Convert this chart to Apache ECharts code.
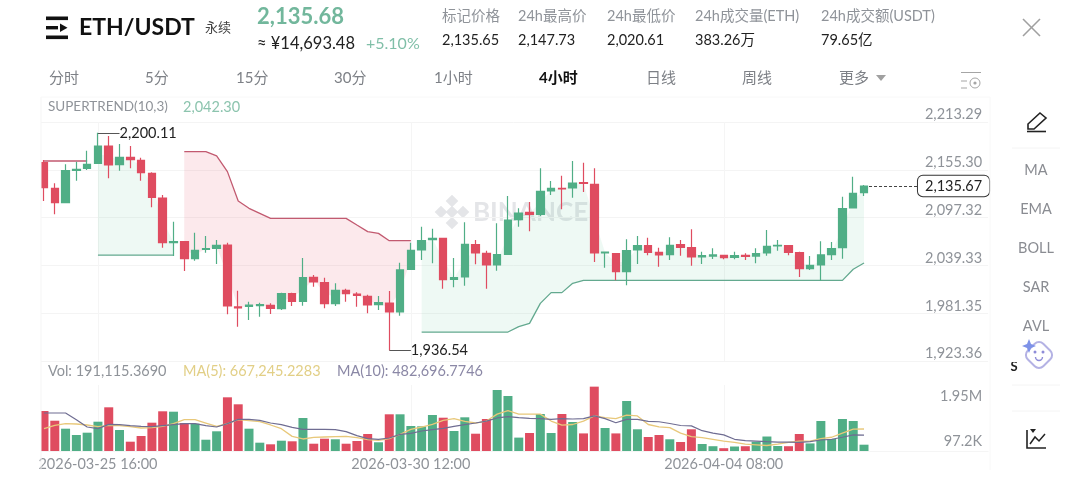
<!DOCTYPE html>
<html>
<head>
<meta charset="utf-8">
<title>ETH/USDT</title>
<style>
    html, body { margin: 0; padding: 0; background: #fff; }
    #main { width: 1080px; height: 486px; }
</style>
<script src="https://cdn.jsdelivr.net/npm/echarts@6/dist/echarts.min.js"></script>
</head>
<body>
<div id="main"></div>
<script>
// 4小时K线, 每根一个时间
const timeList = [
    '2026-03-24 20:00',
    '2026-03-25 00:00', '2026-03-25 04:00', '2026-03-25 08:00', '2026-03-25 12:00', '2026-03-25 16:00', '2026-03-25 20:00',
    '2026-03-26 00:00', '2026-03-26 04:00', '2026-03-26 08:00', '2026-03-26 12:00', '2026-03-26 16:00', '2026-03-26 20:00',
    '2026-03-27 00:00', '2026-03-27 04:00', '2026-03-27 08:00', '2026-03-27 12:00', '2026-03-27 16:00', '2026-03-27 20:00',
    '2026-03-28 00:00', '2026-03-28 04:00', '2026-03-28 08:00', '2026-03-28 12:00', '2026-03-28 16:00', '2026-03-28 20:00',
    '2026-03-29 00:00', '2026-03-29 04:00', '2026-03-29 08:00', '2026-03-29 12:00', '2026-03-29 16:00', '2026-03-29 20:00',
    '2026-03-30 00:00', '2026-03-30 04:00', '2026-03-30 08:00', '2026-03-30 12:00', '2026-03-30 16:00', '2026-03-30 20:00',
    '2026-03-31 00:00', '2026-03-31 04:00', '2026-03-31 08:00', '2026-03-31 12:00', '2026-03-31 16:00', '2026-03-31 20:00',
    '2026-04-01 00:00', '2026-04-01 04:00', '2026-04-01 08:00', '2026-04-01 12:00', '2026-04-01 16:00', '2026-04-01 20:00',
    '2026-04-02 00:00', '2026-04-02 04:00', '2026-04-02 08:00', '2026-04-02 12:00', '2026-04-02 16:00', '2026-04-02 20:00',
    '2026-04-03 00:00', '2026-04-03 04:00', '2026-04-03 08:00', '2026-04-03 12:00', '2026-04-03 16:00', '2026-04-03 20:00',
    '2026-04-04 00:00', '2026-04-04 04:00', '2026-04-04 08:00', '2026-04-04 12:00', '2026-04-04 16:00', '2026-04-04 20:00',
    '2026-04-05 00:00', '2026-04-05 04:00', '2026-04-05 08:00', '2026-04-05 12:00', '2026-04-05 16:00', '2026-04-05 20:00',
    '2026-04-06 00:00', '2026-04-06 04:00', '2026-04-06 08:00', '2026-04-06 12:00', '2026-04-06 16:00', '2026-04-06 20:00',
    '2026-04-07 00:00', '2026-04-07 04:00', '2026-04-07 08:00', '2026-04-07 12:00', '2026-04-07 16:00', '2026-04-07 20:00',
    '2026-04-08 00:00', '2026-04-08 04:00', '2026-04-08 08:00'
]
const openList = [
    2164.0, 2132.8, 2115.4, 2154.7, 2157.1, 2163.2, 2184.2, 2161.5, 2170.4, 2166.8, 2151.0,
    2121.1, 2066.9, 2068.1, 2047.5, 2058.8, 2060.0, 2064.1, 1988.9, 1989.7, 1990.5, 1990.9,
    1986.8, 2005.0, 1995.7, 2024.9, 2018.4, 1992.9, 2009.1, 2004.6, 2001.8, 1991.7, 1993.7,
    1982.8, 2034.6, 2058.0, 2070.6, 2072.2, 2022.4, 2025.3, 2064.5, 2054.0, 2039.8, 2052.8,
    2094.8, 2103.7, 2101.3, 2129.6, 2132.8, 2133.2, 2139.7, 2137.7, 2054.4, 2053.6, 2031.7,
    2058.0, 2063.3, 2055.2, 2052.3, 2064.5, 2060.8, 2049.5, 2050.7, 2051.6, 2049.1, 2051.6,
    2050.7, 2054.4, 2062.9, 2063.3, 2054.8, 2035.4, 2039.8, 2052.3, 2060.8, 2109.0, 2127.6
]
const closeList = [
    2133.6, 2115.4, 2154.3, 2155.9, 2161.9, 2184.2, 2161.1, 2170.4, 2167.6, 2151.8, 2121.9,
    2066.9, 2068.1, 2047.5, 2057.6, 2059.6, 2063.7, 1990.1, 1987.7, 1991.3, 1991.7, 1987.2,
    2005.0, 1995.7, 2024.5, 2019.2, 1992.9, 2009.1, 2005.0, 2003.0, 1991.3, 1994.1, 1982.8,
    2033.8, 2057.6, 2069.3, 2072.2, 2022.0, 2024.5, 2064.9, 2054.4, 2039.8, 2052.3, 2094.4,
    2102.9, 2101.3, 2129.2, 2132.8, 2132.0, 2139.3, 2138.9, 2054.4, 2055.6, 2031.7, 2057.2,
    2063.3, 2055.2, 2052.0, 2063.7, 2061.3, 2049.5, 2051.1, 2052.0, 2048.7, 2051.1, 2050.3,
    2053.6, 2062.5, 2063.7, 2055.2, 2035.4, 2039.4, 2052.0, 2059.6, 2108.2, 2126.8, 2135.67
]
const lowList = [
    2117.5, 2101.3, 2115.4, 2142.1, 2155.1, 2163.2, 2145.0, 2154.3, 2157.1, 2142.1, 2109.8,
    2060.8, 2050.7, 2032.5, 2045.1, 2054.8, 2041.0, 1980.0, 1965.0, 1973.1, 1977.1, 1980.4,
    1985.2, 1990.1, 1990.5, 2013.5, 1987.2, 1990.1, 1995.3, 1989.3, 1981.2, 1985.2, 1936.54,
    1978.4, 2034.6, 2045.9, 2041.8, 2011.1, 2012.7, 2014.7, 2040.6, 2011.1, 2032.9, 2052.8,
    2086.3, 2080.7, 2099.3, 2124.7, 2107.4, 2121.5, 2128.4, 2043.5, 2036.6, 2021.2, 2015.2,
    2041.0, 2051.5, 2037.8, 2045.9, 2051.1, 2039.0, 2041.0, 2047.1, 2046.7, 2046.7, 2045.9,
    2041.8, 2051.1, 2057.2, 2051.5, 2025.3, 2033.8, 2020.8, 2045.9, 2047.5, 2109.0, 2123.5
]
const highList = [
    2167.2, 2138.9, 2161.9, 2165.2, 2178.5, 2200.11, 2196.3, 2186.6, 2184.2, 2170.0, 2152.2,
    2124.7, 2092.4, 2068.1, 2079.0, 2075.0, 2070.1, 2066.9, 2008.7, 1995.3, 1994.1, 1993.3,
    2006.3, 2006.3, 2048.3, 2027.7, 2024.5, 2017.6, 2011.1, 2006.7, 2003.8, 2002.2, 2008.3,
    2042.6, 2066.9, 2086.3, 2083.9, 2072.2, 2048.3, 2091.6, 2070.1, 2057.2, 2090.4, 2123.5,
    2108.6, 2116.2, 2157.1, 2141.7, 2148.2, 2166.0, 2164.0, 2157.1, 2055.6, 2053.6, 2071.0,
    2075.0, 2073.0, 2060.8, 2073.4, 2070.1, 2083.1, 2056.0, 2060.0, 2051.6, 2056.0, 2054.0,
    2060.0, 2082.3, 2070.1, 2063.3, 2056.0, 2050.7, 2068.5, 2067.7, 2122.7, 2147.0, 2136.9
]
const volList = [
    1212000, 918000, 676000, 485000, 555000, 888000, 1324000, 636000, 282000, 455000, 858000,
    1203000, 1191000, 848000, 827000, 342000, 597000, 1627000, 1415000, 676000, 252000, 203000,
    312000, 294000, 1000000, 221000, 373000, 355000, 221000, 303000, 515000, 264000, 1112000,
    1112000, 758000, 748000, 1091000, 1009000, 606000, 1021000, 524000, 970000, 1848000, 1667000,
    406000, 545000, 1121000, 545000, 1121000, 879000, 533000, 1950000, 697000, 533000, 1515000,
    658000, 424000, 485000, 355000, 273000, 658000, 212000, 145000, 85000, 136000, 145000,
    282000, 439000, 152000, 145000, 515000, 230000, 909000, 364000, 970000, 909000, 191115.369
]
const ma5List = [
    677000, 778000, 828000, 818000, 788000, 737000, 778000, 768000, 737000, 697000, 707000,
    747000, 828000, 949000, 949000, 848000, 747000, 828000, 949000, 919000, 889000, 788000,
    677000, 444000, 364000, 414000, 424000, 434000, 444000, 404000, 343000, 323000, 374000,
    505000, 657000, 727000, 808000, 929000, 980000, 899000, 848000, 907000, 1116000, 1220000,
    1116000, 1116000, 1116000, 907000, 782000, 803000, 907000, 1064000, 1012000, 980000, 1085000,
    1064000, 803000, 730000, 709000, 542000, 438000, 407000, 355000, 302000, 261000, 209000,
    188000, 167000, 209000, 261000, 302000, 302000, 375000, 417000, 542000, 660000, 667245.2283
]
const ma10List = [
    1151000, 1151000, 1151000, 949000, 727000, 677000, 808000, 798000, 768000, 747000, 737000,
    768000, 798000, 828000, 828000, 768000, 727000, 828000, 960000, 960000, 929000, 848000,
    798000, 717000, 657000, 657000, 657000, 646000, 586000, 465000, 374000, 354000, 394000,
    505000, 535000, 606000, 646000, 687000, 747000, 798000, 848000, 907000, 1001000, 1043000,
    1012000, 991000, 980000, 960000, 980000, 970000, 980000, 1064000, 980000, 855000, 960000,
    960000, 897000, 887000, 834000, 772000, 761000, 615000, 542000, 490000, 355000, 313000,
    302000, 282000, 271000, 271000, 261000, 282000, 334000, 355000, 417000, 490000, 482696.7746
]
// SUPERTREND(10,3) 多头/空头两段, null为断开
const stUpList = [
    null, null, null, null, null, 2051.9, 2051.9, 2051.9, 2051.9, 2051.9, 2051.9,
    2051.9, 2051.9, null, null, null, null, null, null, null, null, null,
    null, null, null, null, null, null, null, null, null, null, null,
    null, null, 1958.5, 1958.5, 1958.5, 1958.5, 1958.5, 1958.5, 1958.5, 1958.5, 1958.5,
    1965.0, 1969.0, 1993.3, 2006.3, 2006.3, 2017.6, 2021.2, 2021.2, 2021.2, 2021.2, 2021.2,
    2021.2, 2021.2, 2021.2, 2021.2, 2021.2, 2021.2, 2021.2, 2021.2, 2021.2, 2021.2, 2021.2,
    2021.2, 2021.2, 2021.2, 2021.2, 2021.2, 2021.2, 2021.2, 2021.2, 2021.2, 2034.6, 2042.30
]
const stDownList = [
    2166.0, 2166.0, 2166.0, 2166.0, 2166.0, null, null, null, null, null, null,
    null, null, 2177.3, 2177.3, 2177.3, 2172.1, 2153.1, 2117.5, 2108.6, 2102.5, 2096.4,
    2096.4, 2096.4, 2096.4, 2096.4, 2096.4, 2096.4, 2096.4, 2088.3, 2080.3, 2078.2, 2069.3,
    2069.3, 2069.3, null, null, null, null, null, null, null, null, null,
    null, null, null, null, null, null, null, null, null, null, null,
    null, null, null, null, null, null, null, null, null, null, null,
    null, null, null, null, null, null, null, null, null, null, null
]
const priceTicks = [1923.36, 1981.35, 2039.33, 2097.32, 2155.30, 2213.29]
const volTicks = [97200, 1950000]
const timeTickIndex = [5, 34, 63]

const tabNames = ['分时', '5分', '15分', '30分', '1小时', '4小时', '日线', '周线', '更多']
const statNames = ['标记价格', '24h最高价', '24h最低价', '24h成交量(ETH)', '24h成交额(USDT)']
const statValues = ['2,135.65', '2,147.73', '2,020.61', '383.26万', '79.65亿']
const toolNames = ['MA', 'EMA', 'BOLL', 'SAR', 'AVL']

const GREEN = '#50ae86'
const RED = '#df4c60'
const GREY = '#8f9399'
const FONT = 'Lato, "Noto Sans CJK SC", sans-serif'

let fmt_price = (v) => v.toLocaleString('en-US', { minimumFractionDigits: 2, maximumFractionDigits: 2 })

let txt = (x, y, text, size, fill, opt) => ({
    type: 'text',
    z: 10,
    style: Object.assign({ x, y, text, fontSize: size, fill, fontFamily: FONT, verticalAlign: 'middle' }, opt || {})
})
let seg = (x1, y1, x2, y2, stroke, lineWidth) => ({
    type: 'line',
    z: 10,
    shape: { x1, y1, x2, y2 },
    style: { stroke, lineWidth: lineWidth || 1 }
})
let box = (x, y, width, height, fill) => ({
    type: 'rect',
    z: 10,
    shape: { x, y, width, height },
    style: { fill }
})

function header_graphic() {
    let g = []
    // 左上角图标
    g.push(box(46, 16.5, 22, 3.6, '#111'), box(46, 26, 12, 3.4, '#111'), box(46, 35.5, 22, 3.6, '#111'))
    g.push({ type: 'polygon', z: 10, shape: { points: [[60, 23.5], [67.5, 27.7], [60, 32]] }, style: { fill: '#111' } })
    g.push(txt(79, 28, 'ETH/USDT', 23, '#111', { fontWeight: 'bold' }))
    g.push(txt(205, 28, '永续', 13, '#444'))
    g.push(txt(257, 17, '2,135.68', 22, '#72b79c', { fontWeight: 'bold' }))
    g.push(txt(257, 44, '≈ ¥14,693.48', 16.5, '#222'))
    g.push(txt(366, 44, '+5.10%', 16, '#80bfa8'))
    let statX = [442, 518, 607, 695, 821]
    statNames.forEach((name, i) => {
        g.push(txt(statX[i], 16, name, 14.5, GREY))
        g.push(txt(statX[i], 40, statValues[i], 14.5, '#222'))
    })
    // 关闭
    g.push(seg(1023, 19, 1040, 36, '#a0a0a0', 1.6), seg(1040, 19, 1023, 36, '#a0a0a0', 1.6))

    let tabX = [49, 145, 236, 334, 434, 539, 646, 742, 839]
    tabNames.forEach((name, i) => {
        let active = name == '4小时'
        g.push(txt(tabX[i], 78, name, 15, active ? '#111' : '#7d8086', active ? { fontWeight: 'bold' } : null))
    })
    g.push({ type: 'polygon', z: 10, shape: { points: [[876, 75], [886, 75], [881, 81]] }, style: { fill: '#a0a0a0' } })
    // 设置图标
    g.push(seg(961, 72.5, 981, 72.5, '#a5a5a5'), seg(961, 81, 967, 81, '#a5a5a5'), seg(961, 88, 967, 88, '#a5a5a5'))
    g.push({ type: 'circle', z: 10, shape: { cx: 975, cy: 83, r: 5 }, style: { stroke: '#a5a5a5', fill: '#fff', lineWidth: 1 } })
    g.push({ type: 'circle', z: 10, shape: { cx: 975, cy: 83, r: 1.6 }, style: { fill: '#a5a5a5' } })

    g.push(txt(48, 107, 'SUPERTREND(10,3)', 13.5, GREY))
    g.push(txt(183, 107, '2,042.30', 14.5, '#8cc4ae'))
    g.push(txt(48, 371, 'Vol: 191,115.3690', 14.5, GREY))
    g.push(txt(183, 371, 'MA(5): 667,245.2283', 14.5, '#e2cf86'))
    g.push(txt(337, 371, 'MA(10): 482,696.7746', 14.5, '#8b88a6'))
    return g
}

function tool_graphic() {
    let g = []
    // 画笔
    g.push({ type: 'polygon', z: 10, shape: { points: [[1040, 113], [1046, 118], [1034, 129], [1028, 129], [1028, 124]] }, style: { stroke: '#222', fill: '#fff', lineWidth: 1.6 } })
    g.push(seg(1027, 131.5, 1046, 131.5, '#222', 1.6))
    g.push(seg(1012, 148, 1060, 148, '#f4f4f4'))
    let toolY = [170, 209, 248, 287, 326]
    toolNames.forEach((name, i) => {
        g.push(txt(1036, toolY[i], name, 14.5, '#8a8c92', { align: 'center' }))
    })
    g.push(box(1012, 332, 50, 12, '#fff'))
    g.push(txt(1014, 367, 'S', 13, '#222', { align: 'center', fontWeight: 'bold' }))
    g.push(box(1008, 354, 14, 8, '#fff'))
    // AI 头像
    g.push({ type: 'rect', z: 10, x: 1039, y: 355, rotation: Math.PI / 4, shape: { x: -11, y: -11, width: 22, height: 22, r: 6 }, style: { stroke: '#b4b2e4', fill: '#fff', lineWidth: 2 } })
    g.push({ type: 'circle', z: 10, shape: { cx: 1035, cy: 352, r: 1.5 }, style: { fill: '#8e8cd8' } })
    g.push({ type: 'circle', z: 10, shape: { cx: 1043, cy: 352, r: 1.5 }, style: { fill: '#8e8cd8' } })
    g.push({ type: 'arc', z: 10, shape: { cx: 1039, cy: 357, r: 3.5, startAngle: 0, endAngle: Math.PI }, style: { stroke: '#8e8cd8', fill: 'none', lineWidth: 1.4 } })
    g.push({ type: 'polygon', z: 10, shape: { points: [[1029, 339], [1031, 344], [1036, 346], [1031, 348], [1029, 353], [1027, 348], [1022, 346], [1027, 344]] }, style: { fill: '#7e92e8' } })
    g.push(seg(1012, 385, 1060, 385, '#f4f4f4'), seg(1012, 411, 1060, 411, '#f4f4f4'))
    // 图表图标
    g.push({ type: 'polyline', z: 10, shape: { points: [[1027, 430], [1027, 448], [1046, 448]] }, style: { stroke: '#222', fill: 'none', lineWidth: 1.6 } })
    g.push({ type: 'polyline', z: 10, shape: { points: [[1030, 444], [1035, 437], [1039, 441], [1045, 434]] }, style: { stroke: '#222', fill: 'none', lineWidth: 1.5 } })
    g.push({ type: 'polygon', z: 10, shape: { points: [[1030, 429], [1036, 429], [1033, 433]] }, style: { fill: '#222' } })
    return g
}

function watermark_graphic() {
    let g = []
    // 水印菱形, 放在填充区和K线下面
    let cells = [[0, -11, 4.5], [-11, 0, 4.5], [11, 0, 4.5], [0, 11, 4.5], [0, 0, 4.5]]
    cells.forEach((c) => {
        g.push({
            type: 'rect', z: 0, x: 452 + c[0], y: 212 + c[1], rotation: Math.PI / 4,
            shape: { x: -c[2], y: -c[2], width: c[2] * 2, height: c[2] * 2 },
            style: { fill: '#e4e5e8' }
        })
    })
    g.push({ type: 'text', z: 0, style: { x: 473, y: 213, text: 'BINANCE', fontSize: 26, fontWeight: 'bold', fontFamily: FONT, fill: '#e4e5e8', verticalAlign: 'middle' } })
    return g
}

function frame_graphic() {
    return [
        // 第一根K线在左边框处被裁掉
        box(0, 118, 41, 336, '#fff'),
        seg(41, 97, 41, 470, '#f5f5f5'),
        seg(41, 97, 990, 97, '#f8f8f8'),
        seg(990, 97, 990, 470, '#f8f8f8')
    ]
}

// 指标的填充区: 趋势线到K线实体中点
const bandRanges = [[5, 12, 0], [13, 34, 1], [35, 76, 0]]

function render_band(params, api) {
    let from = api.value(0)
    let to = api.value(1)
    let isDown = api.value(2) == 1
    let line = isDown ? stDownList : stUpList
    let pts = []
    for (let i = from; i <= to; i++) pts.push(api.coord([i, line[i]]))
    for (let i = to; i >= from; i--) pts.push(api.coord([i, (openList[i] + closeList[i]) / 2]))
    return {
        type: 'polygon',
        shape: { points: pts },
        style: { fill: isDown ? 'rgba(232,70,95,0.12)' : 'rgba(70,185,135,0.09)' }
    }
}

const candleData = openList.map((o, i) => [o, closeList[i], lowList[i], highList[i]])
const volData = volList.map((v, i) => ({
    value: v,
    itemStyle: { color: closeList[i] >= openList[i] ? GREEN : RED }
}))

let tickAt = (idx) => timeTickIndex.indexOf(idx) >= 0

const leaderLabel = { show: true, position: 'end', distance: 0, color: '#222', fontSize: 14.5, fontFamily: FONT }
const leaderStyle = { color: '#555', width: 1, type: 'solid' }

const option = {
    animation: false,
    backgroundColor: '#fff',
    textStyle: { fontFamily: FONT },
    graphic: { elements: [].concat(watermark_graphic(), frame_graphic(), header_graphic(), tool_graphic()) },
    grid: [
        { left: 38.6, width: 949.5, top: 122, height: 239 },
        { left: 38.6, width: 949.5, top: 385, height: 66 }
    ],
    xAxis: [
        {
            type: 'category', gridIndex: 0, data: timeList, boundaryGap: true,
            axisLine: { show: false }, axisTick: { show: false }, axisLabel: { show: false },
            splitLine: { show: true, alignWithLabel: true, interval: tickAt, lineStyle: { color: '#f5f5f5' } }
        },
        {
            type: 'category', gridIndex: 1, data: timeList, boundaryGap: true,
            axisLine: { show: true, lineStyle: { color: '#f5f5f5' } }, axisTick: { show: false },
            axisLabel: { interval: tickAt, margin: 6, color: GREY, fontSize: 14.5, fontFamily: FONT, hideOverlap: false },
            splitLine: { show: true, alignWithLabel: true, interval: tickAt, lineStyle: { color: '#f5f5f5' } }
        }
    ],
    yAxis: [
        {
            type: 'value', gridIndex: 0, position: 'right', scale: true,
            min: 1923.36, max: 2213.29,
            axisLine: { show: false },
            axisTick: { show: false, customValues: priceTicks },
            axisLabel: {
                inside: true, margin: 6, verticalAlign: 'bottom', color: GREY, fontSize: 14.5, fontFamily: FONT,
                customValues: priceTicks, formatter: fmt_price
            },
            splitLine: { show: true, lineStyle: { color: '#f4f4f4' } }
        },
        {
            type: 'value', gridIndex: 1, position: 'right',
            min: 0, max: 2000000,
            axisLine: { show: false },
            axisTick: { show: false, customValues: volTicks },
            axisLabel: {
                inside: true, margin: 6, customValues: volTicks,
                formatter: (v) => v > 1000000 ? '{top|1.95M}' : '{low|97.2K}',
                // 文字不贴刻度, 1.95M在最高柱之下
                rich: {
                    top: { color: GREY, fontSize: 14.5, fontFamily: FONT, padding: [20, 0, 0, 0] },
                    low: { color: GREY, fontSize: 14.5, fontFamily: FONT, padding: [0, 0, 12, 0] }
                }
            },
            splitLine: { show: false }
        }
    ],
    series: [
        {
            name: 'band', type: 'custom', xAxisIndex: 0, yAxisIndex: 0, z: 1, silent: true,
            data: bandRanges, encode: { x: [0, 1] }, renderItem: render_band
        },
        {
            name: 'kline', type: 'candlestick', xAxisIndex: 0, yAxisIndex: 0, z: 5,
            data: candleData, barWidth: 8,
            itemStyle: { color: GREEN, color0: RED, borderColor: GREEN, borderColor0: RED, borderWidth: 1.2 },
            markLine: {
                silent: true, symbol: 'none', animation: false,
                data: [
                    [
                        { coord: [5, highList[5]], lineStyle: leaderStyle, label: leaderLabel },
                        { coord: [7, highList[5]], value: highList[5] }
                    ],
                    [
                        { coord: [32, lowList[32]], lineStyle: leaderStyle, label: leaderLabel },
                        { coord: [34, lowList[32]], value: lowList[32] }
                    ],
                    [
                        { coord: [76, closeList[76]], lineStyle: { color: '#444', width: 1, type: [3, 2] },
                          label: {
                              show: true, position: 'end', distance: 0, color: '#222', fontSize: 14.5, fontFamily: FONT,
                              backgroundColor: '#fff', borderColor: '#333', borderWidth: 1, borderRadius: 5, padding: [3, 7, 3, 7]
                          } },
                        { coord: [81, closeList[76]], value: closeList[76] }
                    ]
                ],
                label: { formatter: (p) => fmt_price(p.value) }
            }
        },
        {
            name: 'st_up', type: 'line', xAxisIndex: 0, yAxisIndex: 0, z: 3,
            data: stUpList, showSymbol: false, lineStyle: { color: '#63a98f', width: 1.3 }
        },
        {
            name: 'st_down', type: 'line', xAxisIndex: 0, yAxisIndex: 0, z: 3,
            data: stDownList, showSymbol: false, lineStyle: { color: '#c25a70', width: 1.3 }
        },
        {
            name: 'vol', type: 'bar', xAxisIndex: 1, yAxisIndex: 1,
            data: volData, barWidth: 9
        },
        {
            name: 'ma5', type: 'line', xAxisIndex: 1, yAxisIndex: 1, z: 4,
            data: ma5List, showSymbol: false, lineStyle: { color: '#e8c87a', width: 1.3 }
        },
        {
            name: 'ma10', type: 'line', xAxisIndex: 1, yAxisIndex: 1, z: 4,
            data: ma10List, showSymbol: false, lineStyle: { color: '#6f6d92', width: 1.2 }
        }
    ]
}

const chart = echarts.init(document.getElementById('main'))
chart.setOption(option)
</script>
</body>
</html>
